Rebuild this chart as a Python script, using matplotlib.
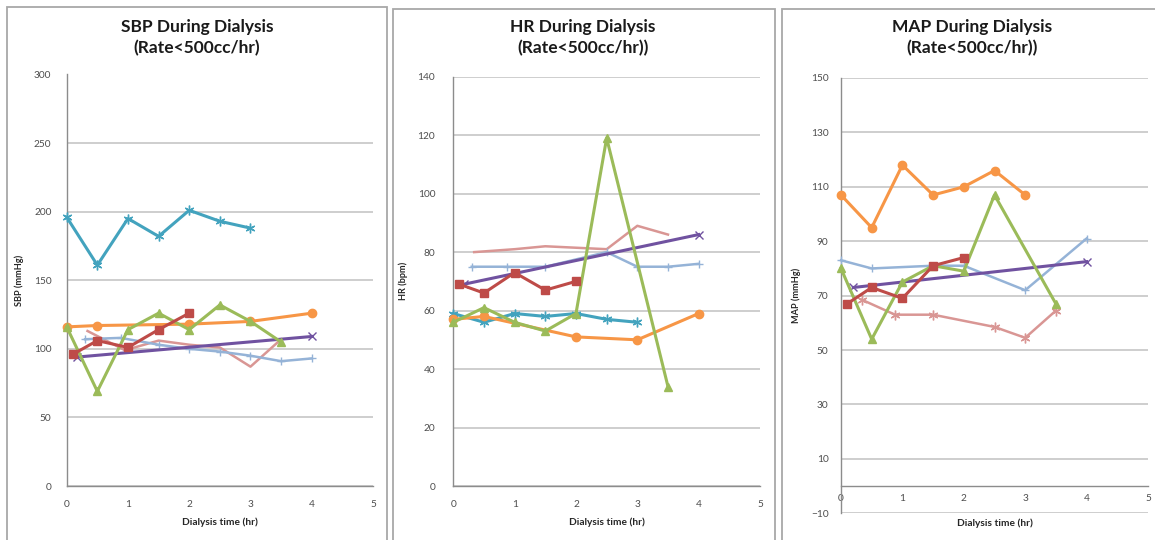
import matplotlib
matplotlib.use('Agg')
import matplotlib.pyplot as plt
from matplotlib.patches import Rectangle

plt.rcParams['font.family'] = ['Lato', 'DejaVu Sans']

W, H = 1155, 540

# ---------------- colours ----------------
C_TEAL = '#43A3BE'
C_ORANGE = '#F79646'
C_RED = '#BE4B48'
C_GREEN = '#9BBB59'
C_PURPLE = '#7052A0'
C_LBLUE = '#95B3D7'
C_PINK = '#D99694'

# ---------------- SBP data ----------------
sbp_teal_x = [0, 0.5, 1, 1.5, 2, 2.5, 3]
sbp_teal_y = [196, 161, 195, 182, 201, 193, 188]
sbp_orange_x = [0, 0.5, 2, 3, 4]
sbp_orange_y = [116, 117, 118, 120, 126]
sbp_red_x = [0.1, 0.5, 1, 1.5, 2]
sbp_red_y = [96, 106, 101, 114, 126]
sbp_green_x = [0, 0.5, 1, 1.5, 2, 2.5, 3, 3.5]
sbp_green_y = [116, 69, 114, 126, 114, 132, 120, 105]
sbp_purple_x = [0.17, 4]
sbp_purple_y = [94, 109]
sbp_lblue_x = [0.3, 0.88, 1.5, 2, 2.5, 3, 3.5, 4]
sbp_lblue_y = [107, 108, 103, 100, 98, 95, 91, 93]
sbp_pink_x = [0.34, 0.95, 1.5, 2, 2.5, 3, 3.5]
sbp_pink_y = [113, 99, 106, 103, 101, 87, 107]

# ---------------- HR data ----------------
hr_green_x = [0, 0.5, 1, 1.5, 2, 2.5, 3.5]
hr_green_y = [56, 61, 56, 53, 59, 119, 34]
hr_red_x = [0.1, 0.5, 1, 1.5, 2]
hr_red_y = [69, 66, 73, 67, 70]
hr_teal_x = [0, 0.5, 1, 1.5, 2, 2.5, 3]
hr_teal_y = [59, 56, 59, 58, 59, 57, 56]
hr_orange_x = [0, 0.5, 2, 3, 4]
hr_orange_y = [57, 58, 51, 50, 59]
hr_pink_x = [0.34, 1, 1.5, 2.5, 3, 3.5]
hr_pink_y = [80, 81, 82, 81, 89, 86]
hr_purple_x = [0.17, 4]
hr_purple_y = [69, 86]
hr_lblue_x = [0.3, 0.88, 1.5, 2.5, 3, 3.5, 4]
hr_lblue_y = [75, 75, 75, 80, 75, 75, 76]

# ---------------- MAP data ----------------
map_orange_x = [0, 0.5, 1, 1.5, 2, 2.5, 3]
map_orange_y = [107, 95, 118, 107, 110, 116, 107]
map_green_x = [0, 0.5, 1, 1.5, 2, 2.5, 3.5]
map_green_y = [80, 54, 75, 81, 79, 107, 67]
map_red_x = [0.1, 0.5, 1, 1.5, 2]
map_red_y = [67, 73, 69, 81, 84]
map_lblue_x = [0, 0.5, 1.5, 2, 3, 4]
map_lblue_y = [83, 80, 81, 81, 72, 91]
map_pink_x = [0.34, 0.88, 1.5, 2.5, 3, 3.5]
map_pink_y = [68.5, 63, 63, 58.5, 54.5, 64.5]
map_purple_x = [0.2, 4]
map_purple_y = [73, 82.5]

x_ticks = [0, 1, 2, 3, 4, 5]
sbp_ticks = [0, 50, 100, 150, 200, 250, 300]
hr_ticks = [0, 20, 40, 60, 80, 100, 120, 140]
map_ticks = [-10, 10, 30, 50, 70, 90, 110, 130, 150]

fig = plt.figure(figsize=(W / 100, H / 100), dpi=100)
fig.patch.set_facecolor('white')

# panel borders
for (l, t, r) in [(7, 7, 387), (393, 9, 775), (782, 9, 1170)]:
    fig.patches.append(Rectangle((l / W, 1 - 560 / H), (r - l) / W, (560 - t) / H,
                                 transform=fig.transFigure, facecolor='white',
                                 edgecolor='#A8A8A8', linewidth=1.3, zorder=-5))


def add_ax(l, r, t, b):
    ax = fig.add_axes([l / W, 1 - b / H, (r - l) / W, (b - t) / H])
    ax.set_zorder(2)
    return ax


def style(ax, yticks, ylim, ylabel, pad):
    ax.set_xlim(0, 5)
    ax.set_ylim(*ylim)
    ax.set_xticks(x_ticks)
    ax.set_yticks(yticks)
    ax.grid(axis='y', color='#C6C6C6', linewidth=1.2, zorder=0)
    ax.set_axisbelow(True)
    for s in ['top', 'right']:
        ax.spines[s].set_visible(False)
    for s in ['left', 'bottom']:
        ax.spines[s].set_color('#8C8C8C')
        ax.spines[s].set_linewidth(1.0)
    ax.tick_params(axis='both', length=0, labelsize=7.3, labelcolor='#4D4D4D')
    ax.tick_params(axis='y', pad=pad)
    ax.tick_params(axis='x', pad=10)
    ax.patch.set_visible(False)
    ax.set_ylabel(ylabel, fontsize=6.6, fontweight='bold', color='#262626', labelpad=7)
    ax.set_xlabel('Dialysis time (hr)', fontsize=7.3, fontweight='bold', color='#262626', labelpad=6)


def line(ax, x, y, color, marker, ms, lw=2.2, mew=1.0):
    ax.plot(x, y, color=color, lw=lw, marker=marker, ms=ms, mew=mew,
            mfc=color, mec=color, clip_on=False, zorder=3)


AST = (6, 2, 0)

# ---- SBP ----
ax1 = add_ax(66.7, 373, 74.5, 486)
style(ax1, sbp_ticks, (0, 300), 'SBP (mmHg)', 11)
line(ax1, sbp_pink_x, sbp_pink_y, C_PINK, None, 0, lw=1.8)
line(ax1, sbp_lblue_x, sbp_lblue_y, C_LBLUE, '+', 6, lw=1.8)
line(ax1, sbp_purple_x, sbp_purple_y, C_PURPLE, 'x', 6)
line(ax1, sbp_teal_x, sbp_teal_y, C_TEAL, AST, 7)
line(ax1, sbp_orange_x, sbp_orange_y, C_ORANGE, 'o', 6)
line(ax1, sbp_green_x, sbp_green_y, C_GREEN, '^', 6)
line(ax1, sbp_red_x, sbp_red_y, C_RED, 's', 6)

# ---- HR ----
ax2 = add_ax(453.3, 760, 76.7, 486)
style(ax2, hr_ticks, (0, 140), 'HR (bpm)', 13)
line(ax2, hr_pink_x, hr_pink_y, C_PINK, None, 0, lw=1.8)
line(ax2, hr_lblue_x, hr_lblue_y, C_LBLUE, '+', 6, lw=1.8)
line(ax2, hr_purple_x, hr_purple_y, C_PURPLE, 'x', 6)
line(ax2, hr_teal_x, hr_teal_y, C_TEAL, AST, 7)
line(ax2, hr_orange_x, hr_orange_y, C_ORANGE, 'o', 6)
line(ax2, hr_green_x, hr_green_y, C_GREEN, '^', 6)
line(ax2, hr_red_x, hr_red_y, C_RED, 's', 6)

# ---- MAP ----
ax3 = add_ax(841, 1148, 78, 513.3)
style(ax3, map_ticks, (-10, 150), 'MAP (mmHg)', 9)
ax3.spines['bottom'].set_position(('data', 0))
ax3.tick_params(axis='x', pad=6)
ax3.xaxis.set_label_coords(0.5, -0.012)
line(ax3, map_pink_x, map_pink_y, C_PINK, AST, 7, lw=1.8)
line(ax3, map_lblue_x, map_lblue_y, C_LBLUE, '+', 6, lw=1.8)
line(ax3, map_purple_x, map_purple_y, C_PURPLE, 'x', 6)
line(ax3, map_orange_x, map_orange_y, C_ORANGE, 'o', 6)
line(ax3, map_green_x, map_green_y, C_GREEN, '^', 6)
line(ax3, map_red_x, map_red_y, C_RED, 's', 6)

# titles
titles = [(197, 'SBP During Dialysis', '(Rate<500cc/hr)'),
          (583, 'HR During Dialysis', '(Rate<500cc/hr))'),
          (972, 'MAP During Dialysis', '(Rate<500cc/hr))')]
for cx, t1, t2 in titles:
    fig.text(cx / W, 1 - 27 / H, t1, ha='center', va='center', fontsize=12.5,
             fontweight='bold', color='#1A1A1A')
    fig.text(cx / W, 1 - 48 / H, t2, ha='center', va='center', fontsize=12.5,
             fontweight='bold', color='#1A1A1A')

fig.savefig('out.png', dpi=100, facecolor='white')
